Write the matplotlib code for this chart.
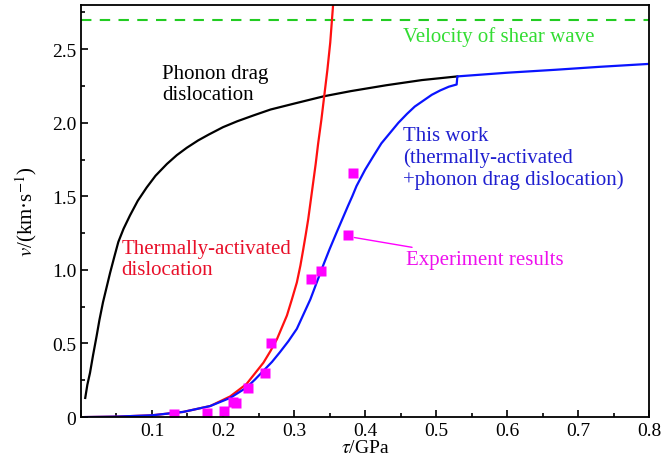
import numpy as np
import matplotlib
matplotlib.use('Agg')
import matplotlib.pyplot as plt
from matplotlib.ticker import MultipleLocator, FuncFormatter

plt.rcParams['font.family'] = 'Liberation Serif'
plt.rcParams['mathtext.fontset'] = 'stix'

# curva phonon drag
phonon_x = [0.006, 0.009, 0.0127, 0.017, 0.022, 0.026, 0.031, 0.036, 0.041, 0.047,
            0.0526, 0.06, 0.069, 0.08, 0.0925, 0.105, 0.121, 0.135, 0.149, 0.165,
            0.18, 0.2, 0.22, 0.243, 0.267, 0.3, 0.342, 0.38, 0.43, 0.48, 0.53]
phonon_y = [0.13, 0.22, 0.30, 0.42, 0.55, 0.66, 0.78, 0.88, 0.98, 1.09,
            1.19, 1.28, 1.37, 1.47, 1.56, 1.64, 1.72, 1.78, 1.83, 1.88,
            1.92, 1.97, 2.01, 2.05, 2.09, 2.13, 2.18, 2.215, 2.255, 2.29, 2.315]

# curva termicamente ativada
thermal_x = [0.006, 0.05, 0.1, 0.144, 0.182, 0.21, 0.233, 0.257, 0.267, 0.276,
             0.283, 0.29, 0.297, 0.304, 0.309, 0.313, 0.3165, 0.32, 0.3235, 0.327,
             0.3305, 0.334, 0.3385, 0.343, 0.347, 0.351, 0.355, 0.357]
thermal_y = [0.0, 0.003, 0.012, 0.035, 0.075, 0.14, 0.224, 0.37, 0.45, 0.53,
             0.61, 0.69, 0.80, 0.915, 1.03, 1.14, 1.24, 1.345, 1.47, 1.595,
             1.72, 1.86, 2.02, 2.2, 2.36, 2.545, 2.80, 2.95]

# este trabalho
work_x = [0.006, 0.05, 0.1, 0.144, 0.182, 0.21, 0.233, 0.245, 0.257, 0.269,
          0.28, 0.292, 0.304, 0.3135, 0.323, 0.332, 0.341, 0.35, 0.36, 0.368,
          0.376, 0.382, 0.388, 0.40, 0.412, 0.423, 0.435, 0.447, 0.459, 0.47,
          0.482, 0.494, 0.506, 0.518, 0.529, 0.53, 0.6, 0.668, 0.73, 0.8]
work_y = [0.0, 0.003, 0.012, 0.035, 0.075, 0.13, 0.20, 0.255, 0.315, 0.375,
          0.44, 0.515, 0.60, 0.70, 0.80, 0.915, 1.03, 1.14, 1.255, 1.345,
          1.435, 1.50, 1.57, 1.68, 1.775, 1.86, 1.93, 2.00, 2.06, 2.11,
          2.15, 2.19, 2.22, 2.245, 2.26, 2.315, 2.34, 2.36, 2.38, 2.40]

# resultados experimentais
exp_x = [0.131, 0.178, 0.201, 0.214, 0.218, 0.235, 0.259, 0.267, 0.324, 0.338, 0.376, 0.383]
exp_y = [0.02, 0.03, 0.04, 0.10, 0.095, 0.20, 0.30, 0.50, 0.94, 0.99, 1.24, 1.66]

shear_v = 2.7

fig = plt.figure(figsize=(6.61, 4.64), dpi=100)
ax = fig.add_axes([0.1225, 0.099, 0.8595, 0.888])

ax.axhline(shear_v, color='#22cc22', lw=1.5, dashes=(5, 4))
ax.plot(phonon_x, phonon_y, color='black', lw=1.6)
ax.plot(thermal_x, thermal_y, color='#ff1010', lw=1.6)
ax.plot(work_x, work_y, color='#0a14ff', lw=1.6)
ax.plot(exp_x, exp_y, 's', color='#ff00ff', ms=6.5, mec='none')

ax.text(0.453, 2.59, 'Velocity of shear wave', color='#33dd33', fontsize=15, va='center')
ax.text(0.114, 2.40, 'Phonon drag\ndislocation', color='black', fontsize=15, va='top', linespacing=1.15)
ax.text(0.057, 1.21, 'Thermally-activated\ndislocation', color='#e8102a', fontsize=15, va='top', linespacing=1.15)
ax.text(0.453, 1.98, 'This work\n(thermally-activated\n+phonon drag dislocation)', color='#2020d0',
        fontsize=15, va='top', linespacing=1.15)
ax.annotate('Experiment results', xy=(0.385, 1.22), xytext=(0.457, 1.07), color='#ee10ee',
            fontsize=15, va='center',
            arrowprops=dict(arrowstyle='-', color='#ff00ff', lw=1, shrinkA=0, shrinkB=0))

ax.set_xlim(0, 0.8)
ax.set_ylim(0, 2.8)
ax.xaxis.set_major_locator(MultipleLocator(0.1))
ax.xaxis.set_minor_locator(MultipleLocator(0.05))
ax.yaxis.set_major_locator(MultipleLocator(0.5))
ax.yaxis.set_minor_locator(MultipleLocator(0.25))
ax.xaxis.set_major_formatter(FuncFormatter(lambda v, p: '' if abs(v) < 1e-9 else f'{v:.1f}'))
ax.yaxis.set_major_formatter(FuncFormatter(lambda v, p: '0' if abs(v) < 1e-9 else f'{v:.1f}'))
ax.tick_params(which='both', direction='in', labelsize=14, top=False, right=False)
ax.tick_params(which='major', length=5, width=1.2)
ax.tick_params(which='minor', length=3, width=1.2)
for lab in ax.get_xticklabels() + ax.get_yticklabels():
    lab.set_fontfamily('Liberation Serif')
for s in ax.spines.values():
    s.set_linewidth(1.3)

ax.set_xlabel(r'$\tau$/GPa', fontsize=14, labelpad=0)
ax.set_ylabel(r'$v$/(km·s$^{-1}$)', fontsize=15, labelpad=9)

fig.savefig('out.png', dpi=100)
